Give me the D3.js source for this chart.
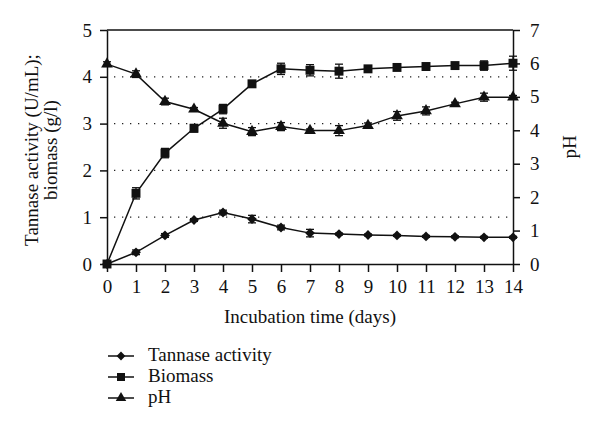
<!DOCTYPE html>
<html><head><meta charset="utf-8">
<script src="https://cdn.jsdelivr.net/npm/d3@7"></script>
<style>body{margin:0;background:#fff}svg{display:block}</style>
</head><body><svg id="c" width="600" height="427"></svg>
<script>
const days = [0,1,2,3,4,5,6,7,8,9,10,11,12,13,14];
const tannase = [0,0.25,0.61,0.94,1.10,0.96,0.78,0.66,0.64,0.62,0.61,0.59,0.58,0.57,0.57];
const tannaseErr = [0.02,0.05,0.04,0.03,0.05,0.08,0.05,0.08,0.02,0.02,0.02,0.02,0.02,0.02,0.02];
const biomass = [0,1.51,2.37,2.90,3.31,3.85,4.17,4.14,4.12,4.17,4.20,4.22,4.24,4.24,4.29];
const biomassErr = [0.03,0.12,0.1,0.08,0.1,0.05,0.12,0.12,0.15,0.06,0.05,0.05,0.05,0.1,0.15];
const ph = [5.98,5.68,4.86,4.63,4.21,3.96,4.11,3.99,3.99,4.14,4.43,4.58,4.79,4.99,4.99];
const phErr = [0.07,0.1,0.1,0.05,0.15,0.12,0.12,0.05,0.15,0.08,0.13,0.12,0.05,0.12,0.05];
const leftTicks = [0,1,2,3,4,5];
const rightTicks = [0,1,2,3,4,5,6,7];
const gridVals = [1,2,3,4];
const legendLabels = ["Tannase activity","Biomass","pH"];

const FONT = "'Liberation Serif','DejaVu Serif',serif";
const svg = d3.select("#c");
const L=107,R=513,T=30,B=264;
const x = d3.scaleLinear().domain([0,14]).range([L,R]);
const yL = d3.scaleLinear().domain([0,5]).range([B,T]);
const yR = d3.scaleLinear().domain([0,7]).range([B,T]);
const fs = 19;

svg.append("g").selectAll("line").data(gridVals).join("line")
  .attr("x1",L+7).attr("x2",R-5).attr("y1",d=>yL(d)).attr("y2",d=>yL(d))
  .attr("stroke","#222").attr("stroke-width",1.3).attr("stroke-dasharray","1.3,6.7");
svg.append("line").attr("x1",L).attr("x2",R).attr("y1",T).attr("y2",T).attr("stroke","#111").attr("stroke-width",1.5);

function styleAxis(g){
  g.attr("font-family",null).attr("font-size",null);
  g.select(".domain").attr("stroke","#111").attr("stroke-width",1.5);
  g.selectAll(".tick line").attr("stroke","#111").attr("stroke-width",1.5);
  g.selectAll(".tick text").style("font-size",fs+"px").style("font-family",FONT).attr("fill","#111");
}
const fmt = d3.format("d");
svg.append("g").attr("transform",`translate(0,${B})`)
  .call(d3.axisBottom(x).tickValues(days).tickFormat(fmt).tickSize(8).tickSizeOuter(0).tickPadding(8)).call(styleAxis);
svg.append("g").attr("transform",`translate(${L},0)`)
  .call(d3.axisLeft(yL).tickValues(leftTicks).tickFormat(fmt).tickSize(7).tickSizeOuter(0).tickPadding(8)).call(styleAxis);
svg.append("g").attr("transform",`translate(${R},0)`)
  .call(d3.axisRight(yR).tickValues(rightTicks).tickFormat(fmt).tickSize(7).tickSizeOuter(0).tickPadding(10)).call(styleAxis);

const series = [
  {vals:tannase, err:tannaseErr, y:yL, sym:d3.symbolSquare, size:48, rot:45},
  {vals:biomass, err:biomassErr, y:yL, sym:d3.symbolSquare, size:80, rot:0},
  {vals:ph, err:phErr, y:yR, sym:d3.symbolTriangle, size:60, rot:0}
];
series.forEach(s=>{
  const line = d3.line().x((d,i)=>x(days[i])).y(d=>s.y(d));
  svg.append("path").attr("d",line(s.vals)).attr("fill","none").attr("stroke","#111").attr("stroke-width",1.5);
  const g = svg.append("g");
  s.vals.forEach((v,i)=>{
    const cx=x(days[i]), y1=s.y(v+s.err[i]), y2=s.y(v-s.err[i]);
    g.append("line").attr("x1",cx).attr("x2",cx).attr("y1",y1).attr("y2",y2).attr("stroke","#111").attr("stroke-width",1.3);
    [y1,y2].forEach(yy=>g.append("line").attr("x1",cx-4).attr("x2",cx+4).attr("y1",yy).attr("y2",yy).attr("stroke","#111").attr("stroke-width",1.3));
    g.append("path").attr("d",d3.symbol().type(s.sym).size(s.size)()).attr("transform",`translate(${cx},${s.y(v)}) rotate(${s.rot})`).attr("fill","#111");
  });
});

function txt(sel){ return sel.style("font-family",FONT).style("font-size",fs+"px").attr("fill","#111"); }
txt(svg.append("text").attr("x",(L+R)/2).attr("y",323).attr("text-anchor","middle")).text("Incubation time (days)");
txt(svg.append("text").attr("transform","translate(38,150) rotate(-90)").attr("text-anchor","middle")).text("Tannase activity (U/mL);");
txt(svg.append("text").attr("transform","translate(57,150) rotate(-90)").attr("text-anchor","middle")).text("biomass (g/l)");
txt(svg.append("text").attr("transform","translate(576,147) rotate(-90)").attr("text-anchor","middle")).text("pH");

const lg = svg.append("g");
legendLabels.forEach((lab,i)=>{
  const yy = 356 + i*21;
  lg.append("line").attr("x1",108).attr("x2",134).attr("y1",yy).attr("y2",yy).attr("stroke","#111").attr("stroke-width",1.5);
  lg.append("path").attr("d",d3.symbol().type(series[i].sym).size(series[i].size*0.8)()).attr("transform",`translate(121,${yy}) rotate(${series[i].rot})`).attr("fill","#111");
  txt(lg.append("text").attr("x",148).attr("y",yy+5)).text(lab);
});
</script></body></html>
